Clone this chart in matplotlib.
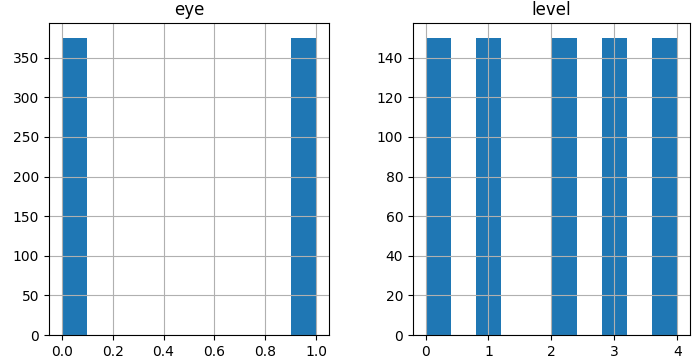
import numpy as np
import pandas as pd
import matplotlib
matplotlib.use('Agg')
import matplotlib.pyplot as plt

# Counts
eye_values = [0, 1]
eye_counts = [375, 375]
level_values = [0, 1, 2, 3, 4]
level_counts = [150, 150, 150, 150, 150]

data = {
    'eye': np.repeat(eye_values, eye_counts),
    'level': np.repeat(level_values, level_counts),
}

fig, axes = plt.subplots(1, 2, figsize=(6.94, 3.61), dpi=100)
for ax, (name, vals) in zip(axes, data.items()):
    ax.hist(vals, bins=10, color='#1f77b4')
    ax.set_title(name)
    ax.grid(True)

fig.subplots_adjust(left=0.0706, right=0.994, bottom=0.072, top=0.936, wspace=0.3)
axes[0].set_position([0.0706, 0.072, 0.4034, 0.864])
axes[1].set_position([0.595, 0.072, 0.399, 0.864])
plt.savefig('out.png')
